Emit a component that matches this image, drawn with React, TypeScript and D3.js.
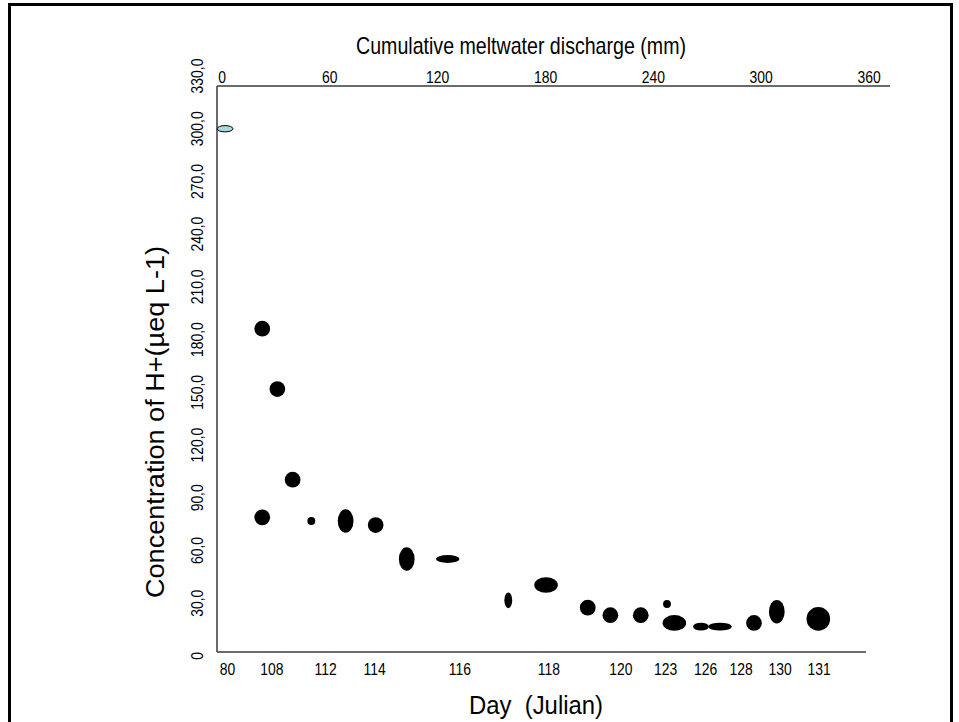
import React from "react";
import * as d3 from "d3";

// Cumulative meltwater discharge (mm) of each sample
const discharge = [1.7, 22.4, 30.8, 39.3, 22.4, 49.7, 68.8, 85.5, 102.8, 125.6, 159.3, 180.3, 203.5, 216.1, 233.0, 247.6, 251.7, 266.5, 277.1, 296.0, 308.7, 331.8];
// Concentration of H+ (µeq L-1)
const concentration = [300, 186.2, 151.9, 100.3, 78.9, 76.8, 76.8, 74.5, 55.2, 55.2, 31.7, 40.4, 27.5, 23.2, 23.2, 29.6, 18.8, 16.7, 16.7, 18.8, 25.2, 21.1];
// Symbol size classes (horizontal / vertical)
const sizeW = [2, 2, 2, 2, 2, 1, 2, 2, 2, 3, 1, 3, 2, 2, 2, 1, 3, 2, 3, 2, 2, 3];
const sizeH = [0.8, 2, 2, 2, 2, 1, 3, 2, 3, 1, 2, 2, 2, 2, 2, 1, 2, 1, 1, 2, 3, 3];
const isFirst = [true, false, false, false, false, false, false, false, false, false, false, false, false, false, false, false, false, false, false, false, false, false];

// Top axis ticks
const topTicks = [0, 60, 120, 180, 240, 300, 360];
// Left axis ticks
const yTicks = [0, 30, 60, 90, 120, 150, 180, 210, 240, 270, 300, 330];
// Bottom axis: Julian days placed at cumulative discharge
const dayLabels = ["80", "108", "112", "114", "116", "118", "120", "123", "126", "128", "130", "131"];
const dayDischarge = [3.1, 27.8, 57.6, 84.9, 132.4, 181.9, 222, 246.8, 269.1, 288.8, 310.5, 332.3];

export default function App() {
  const W = 959, H = 722;
  const x = d3.scaleLinear().domain([0, 360]).range([222, 869]);
  const y = d3.scaleLinear().domain([0, 330]).range([656, 76]);
  const s = d3.scaleLinear().domain([0, 3]).range([0, 11.8]);
  const axisX0 = 217, axisTop = 86, axisBottom = 652;
  const font = "'Liberation Sans', Arial, sans-serif";
  const nx = 0.82; // condensed look
  return (
    <svg width={W} height={H} style={{ position: "absolute", left: 0, top: 0, background: "#fff" }}>
      <rect x={9.5} y={4.5} width={942} height={740} fill="none" stroke="#000" strokeWidth={3} />
      {/* axes */}
      <line x1={axisX0} y1={axisTop} x2={890} y2={axisTop} stroke="#3a3a3a" strokeWidth={1.5} />
      <line x1={axisX0} y1={axisTop} x2={axisX0} y2={axisBottom} stroke="#3a3a3a" strokeWidth={1.5} />
      <line x1={axisX0} y1={axisBottom} x2={866} y2={axisBottom} stroke="#3a3a3a" strokeWidth={1.5} />
      {/* top ticks */}
      {topTicks.map((t) => (
        <text key={"t" + t} transform={`translate(${x(t)},83) scale(${nx},1)`} textAnchor="middle" fontFamily={font} fontSize={17} fill="#000">{t}</text>
      ))}
      {/* left ticks */}
      {yTicks.map((t) => (
        <text key={"y" + t} transform={`translate(203,${y(t)}) rotate(-90) scale(${nx},1)`} textAnchor="middle" fontFamily={font} fontSize={17} fill="#000">
          {t === 0 ? "0" : d3.format(".1f")(t).replace(".", ",")}
        </text>
      ))}
      {/* bottom day labels */}
      {dayLabels.map((d, i) => (
        <text key={"d" + i} transform={`translate(${x(dayDischarge[i])},675) scale(${nx},1)`} textAnchor="middle" fontFamily={font} fontSize={17} fill="#000">{d}</text>
      ))}
      {/* titles */}
      <text x={521} y={54} textAnchor="middle" fontFamily={font} fontSize={24} fill="#000" textLength={330} lengthAdjust="spacingAndGlyphs">Cumulative meltwater discharge (mm)</text>
      <text x={536} y={714} textAnchor="middle" fontFamily={font} fontSize={26} fill="#000" textLength={134} lengthAdjust="spacingAndGlyphs" style={{ whiteSpace: "pre" }}>{"Day  (Julian)"}</text>
      <text transform={`translate(164,422) rotate(-90)`} textAnchor="middle" fontFamily={font} fontSize={25} fill="#000" textLength={352} lengthAdjust="spacingAndGlyphs">Concentration of H+(µeq L-1)</text>
      {/* points */}
      {discharge.map((d, i) => (
        <ellipse key={"p" + i} cx={x(d)} cy={y(concentration[i])} rx={s(sizeW[i])} ry={s(sizeH[i])}
          fill={isFirst[i] ? "#a9d9dd" : "#000"} stroke="#000" strokeWidth={isFirst[i] ? 1 : 0} />
      ))}
    </svg>
  );
}
